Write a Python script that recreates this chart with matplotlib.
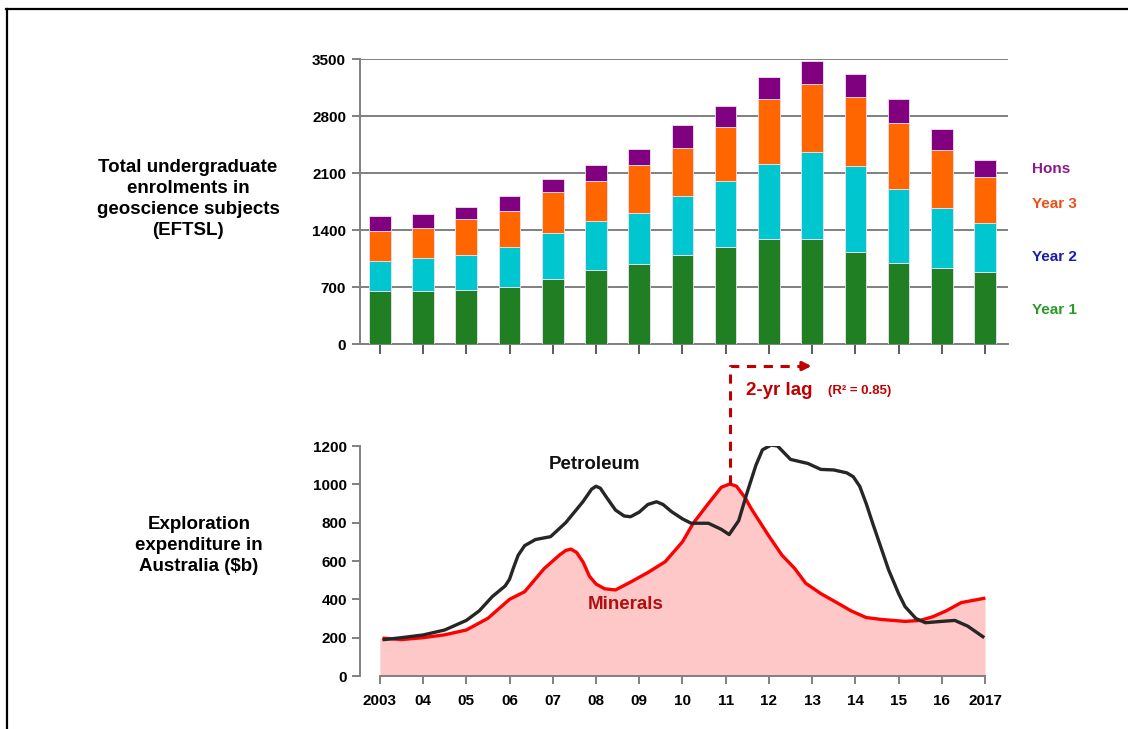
import numpy as np
import matplotlib
matplotlib.use('Agg')
import matplotlib.pyplot as plt
from matplotlib.lines import Line2D

plt.rcParams['font.family'] = ['Liberation Sans', 'DejaVu Sans']
plt.rcParams['font.weight'] = 'bold'

# enrolment data (EFTSL), one value per year
years = np.arange(2003, 2018)
year1 = [651, 651, 663, 700, 802, 909, 978, 1093, 1187, 1285, 1285, 1126, 998, 937, 880]
year2 = [372, 401, 434, 495, 557, 598, 635, 724, 815, 925, 1073, 1056, 902, 729, 610]
year3 = [365, 376, 434, 438, 511, 495, 581, 594, 659, 795, 831, 847, 818, 716, 557]
hons = [188, 164, 147, 184, 152, 192, 205, 278, 262, 270, 290, 290, 294, 262, 216]

# exploration expenditure ($b)
pet_x = [2003.1, 2003.5, 2004.0, 2004.5, 2005.0, 2005.3, 2005.6, 2005.9, 2006.0, 2006.1,
         2006.2, 2006.35, 2006.6, 2006.95, 2007.3, 2007.7, 2007.9, 2008.0, 2008.1, 2008.25,
         2008.45, 2008.65, 2008.8, 2009.0, 2009.2, 2009.4, 2009.55, 2009.75, 2010.0, 2010.2,
         2010.6, 2010.9, 2011.08, 2011.3, 2011.5, 2011.7, 2011.85, 2012.05, 2012.2,
         2012.35, 2012.5, 2012.9, 2013.2, 2013.5, 2013.8, 2013.95, 2014.1, 2014.25, 2014.4,
         2014.77, 2015.0, 2015.15, 2015.4, 2015.62, 2016.0, 2016.3, 2016.6, 2016.95]
pet_y = [190, 200, 214, 240, 290, 340, 414, 470, 505, 570,
         630, 680, 712, 727, 800, 910, 975, 990, 980, 930,
         866, 835, 831, 855, 895, 909, 895, 857, 820, 797,
         797, 765, 738, 810, 960, 1100, 1180, 1205, 1200,
         1165, 1130, 1109, 1078, 1075, 1060, 1040, 990, 900, 797,
         553, 430, 362, 300, 278, 285, 290, 260, 205]

min_x = [2003.0, 2003.1, 2003.5, 2004.0, 2004.5, 2005.0, 2005.5, 2006.0, 2006.35, 2006.8,
         2007.15, 2007.3, 2007.42, 2007.55, 2007.7, 2007.85, 2008.0, 2008.2, 2008.45, 2008.8,
         2009.2, 2009.6, 2010.0, 2010.25, 2010.6, 2010.9, 2011.1, 2011.25, 2011.45, 2011.6,
         2012.0, 2012.3, 2012.6, 2012.85, 2013.2, 2013.6, 2013.9, 2014.25, 2014.6, 2015.15,
         2015.5, 2015.8, 2016.1, 2016.45, 2016.97, 2017.0]
min_y = [197, 197, 190, 200, 215, 240, 301, 400, 440, 560,
         630, 655, 662, 645, 595, 520, 480, 455, 449, 490,
         540, 596, 700, 797, 900, 985, 1002, 990, 930, 870,
         730, 631, 560, 484, 430, 379, 340, 305, 295, 285,
         290, 310, 340, 383, 405, 405]

xticklabels = ['2003', '04', '05', '06', '07', '08', '09', '10', '11', '12', '13', '14', '15', '16', '2017']

fig = plt.figure(figsize=(11.28, 7.29), dpi=100)
grey = '#808080'
xlim = (2002.54, 2017.53)

# ---- top: stacked bars ----
ax1 = fig.add_axes([0.3191, 0.5281, 0.5745, 0.3909])
bottom = np.zeros(len(years))
for vals, col in [(year1, '#217f23'), (year2, '#00c6d0'), (year3, '#ff6600'), (hons, '#800080')]:
    ax1.bar(years, vals, width=0.5, bottom=bottom, color=col, edgecolor='#f0e0f0', linewidth=0.6, zorder=3)
    bottom += np.array(vals)
ax1.set_xlim(*xlim)
ax1.set_ylim(0, 3500)
ax1.set_yticks(np.arange(0, 3501, 700))
ax1.set_xticks(years)
ax1.set_xticklabels([])
ax1.yaxis.grid(True, color=grey, linewidth=1.4, zorder=0)
for s in ['top', 'right']:
    ax1.spines[s].set_visible(False)
for s in ['left', 'bottom']:
    ax1.spines[s].set_color(grey)
    ax1.spines[s].set_linewidth(1.4)
ax1.tick_params(axis='y', length=6, color=grey, width=1.4, labelsize=11, pad=4)
ax1.tick_params(axis='x', length=7, color='#404040', width=1.2)

for txt, col, yy in [('Hons', '#8b1a8b', 2149), ('Year 3', '#e8501a', 1719),
                     ('Year 2', '#1c1ca8', 1068), ('Year 1', '#2a9a2a', 418)]:
    ax1.text(2018.09, yy, txt, color=col, fontsize=11, fontweight='bold', va='center', ha='left')

# ---- bottom: exploration expenditure ----
ax2 = fig.add_axes([0.3191, 0.0727, 0.5745, 0.3155])
ax2.fill_between(min_x, min_y, 0, color='#ffc8c8', linewidth=0, zorder=1)
ax2.plot(min_x[1:-1], min_y[1:-1], color='#ff0000', linewidth=2.4, zorder=3, solid_joinstyle='round')
ax2.plot(pet_x, pet_y, color='#262626', linewidth=2.4, zorder=4, solid_joinstyle='round')
ax2.set_xlim(*xlim)
ax2.set_ylim(0, 1200)
ax2.set_yticks(np.arange(0, 1201, 200))
ax2.set_xticks(years)
ax2.set_xticklabels(xticklabels)
for s in ['top', 'right']:
    ax2.spines[s].set_visible(False)
for s in ['left', 'bottom']:
    ax2.spines[s].set_color(grey)
    ax2.spines[s].set_linewidth(1.4)
ax2.spines['bottom'].set_bounds(2003, 2017)
ax2.tick_params(axis='both', length=6, color=grey, width=1.4, labelsize=11)
ax2.tick_params(axis='x', pad=7)

ax2.text(2007.96, 1105, 'Petroleum', fontsize=13.5, fontweight='bold', color='#111111', ha='center', va='center')
ax2.text(2008.68, 375, 'Minerals', fontsize=13.5, fontweight='bold', color='#b01010', ha='center', va='center')

# 2-yr lag arrow
lag_col = '#c00000'
ax2.plot([2011.1, 2011.1, 2012.85], [1000, 1617, 1617], color=lag_col, linewidth=2.2,
         linestyle=(0, (3, 2.5)), clip_on=False, zorder=5)
ax2.annotate('', xy=(2013.05, 1617), xytext=(2012.75, 1617),
             arrowprops=dict(arrowstyle='-|>', color=lag_col, lw=2.2, mutation_scale=13),
             annotation_clip=False)
ax2.text(2011.48, 1487, '2-yr lag', fontsize=13.5, fontweight='bold', color=lag_col, va='center')
ax2.text(2013.36, 1487, '(R² = 0.85)', fontsize=9.5, fontweight='bold', color=lag_col, va='center')

# side titles
fig.text(0.1667, 0.727, 'Total undergraduate\nenrolments in\ngeoscience subjects\n(EFTSL)',
         ha='center', va='center', fontsize=13.5, fontweight='bold', linespacing=1.32)
fig.text(0.1765, 0.252, 'Exploration\nexpenditure in\nAustralia ($b)',
         ha='center', va='center', fontsize=13.5, fontweight='bold', linespacing=1.32)

# slide frame
fig.add_artist(Line2D([0.005, 1.0], [0.988, 0.988], color='black', linewidth=1.6))
fig.add_artist(Line2D([0.0065, 0.0065], [0.0, 0.988], color='black', linewidth=1.6))

fig.savefig('out.png', dpi=100)
